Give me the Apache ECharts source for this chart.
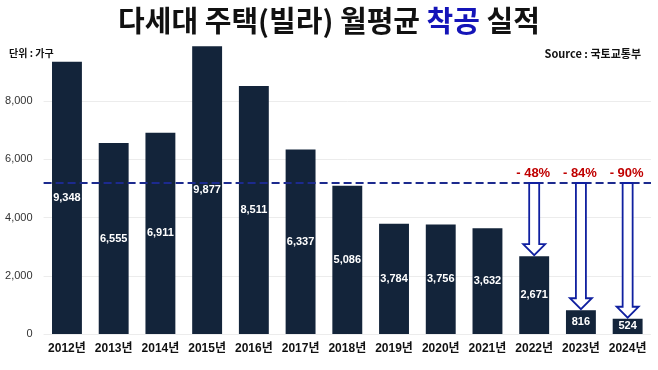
<!DOCTYPE html>
<html>
<head>
<meta charset="utf-8">
<script src="https://cdn.jsdelivr.net/npm/echarts@6/dist/echarts.min.js"></script>
<style>
html,body{margin:0;padding:0;background:#fff;}
#chart{width:658px;height:370px;}
</style>
</head>
<body>
<div id="chart"></div>
<script>
const categories = ['2012년','2013년','2014년','2015년','2016년','2017년','2018년','2019년','2020년','2021년','2022년','2023년','2024년'];
const values = [9348,6555,6911,9877,8511,6337,5086,3784,3756,3632,2671,816,524];
const average = 5184;
const dropCategories = ['2022년','2023년','2024년'];
const dropLabels = ['- 48%','- 84%','- 90%'];
const yMin = 0;
const yMax = 10000;
const yInterval = 2000;

const NUM_FONT = "'Liberation Sans Narrow','Noto Sans CJK KR',sans-serif";
const KR_FONT = "'Noto Sans CJK KR',sans-serif";

const chart = echarts.init(document.getElementById('chart'), null, {renderer:'canvas'});

const arrowData = dropCategories.map((c, i) => [categories.indexOf(c), average, values[categories.indexOf(c)], i]);

const option = {
  backgroundColor: '#ffffff',
  animation: false,
  title: [
    {
      text: '{k|다세대 주택(빌라) 월평균 }{b|착공}{k| 실적}',
      left: 'center',
      top: 1,
      textStyle: {
        rich: {
          k: {fontFamily: KR_FONT, fontWeight: 'bold', fontSize: 29, color: '#111111'},
          b: {fontFamily: KR_FONT, fontWeight: 'bold', fontSize: 29, color: '#1414b8'}
        }
      }
    },
    {
      text: '단위 : 가구',
      left: 4,
      top: 43,
      textStyle: {fontFamily: KR_FONT, fontWeight: 'bold', fontSize: 10, color: '#111'}
    },
    {
      text: 'Source : 국토교통부',
      right: 12,
      top: 43,
      textStyle: {fontFamily: NUM_FONT, fontWeight: 'bold', fontSize: 11, color: '#111'}
    }
  ],
  grid: {left: 43.6, right: 7, top: 42.75, bottom: 36, containLabel: false},
  xAxis: {
    type: 'category',
    data: categories,
    axisLine: {show: false},
    axisTick: {show: false},
    axisLabel: {
      interval: 0,
      margin: 9,
      fontFamily: "'Liberation Sans','Noto Sans CJK KR',sans-serif",
      fontWeight: 'bold',
      fontSize: 12,
      color: '#111'
    }
  },
  yAxis: {
    type: 'value',
    min: yMin,
    max: yMax,
    interval: yInterval,
    axisLine: {show: false},
    axisTick: {show: false},
    axisLabel: {
      showMaxLabel: false,
      margin: 11,
      fontFamily: "'Liberation Sans',Arial,sans-serif",
      fontSize: 11,
      color: '#333',
      formatter: v => v.toLocaleString('en-US')
    },
    splitLine: {show: true, showMaxLine: false, lineStyle: {color: '#ececec', width: 1}}
  },
  series: [
    {
      type: 'bar',
      data: values,
      barWidth: '64%',
      itemStyle: {color: '#13243a'},
      label: {
        show: true,
        position: 'inside',
        color: '#ffffff',
        fontFamily: "'Liberation Sans',Arial,sans-serif",
        fontWeight: 'bold',
        fontSize: 11,
        formatter: p => p.value.toLocaleString('en-US')
      },
      markLine: {
        silent: true,
        symbol: ['none', 'none'],
        lineStyle: {color: '#1c2a8e', type: [8, 4], width: 2.2},
        label: {show: false},
        data: [{yAxis: average}]
      },
      markPoint: {
        silent: true,
        symbol: 'none',
        data: [{coord: ['2020년', average], value: average}],
        label: {
          show: true,
          offset: [-16, -12],
          fontFamily: KR_FONT,
          fontWeight: 'bold',
          fontSize: 11,
          color: '#111',
          formatter: () => '다세대주택 착공 월평균 ' + average.toLocaleString('en-US') + '채'
        }
      },
      z: 2
    },
    {
      type: 'custom',
      data: arrowData,
      z: 5,
      renderItem: function (params, api) {
        const top = api.coord([api.value(0), api.value(1)]);
        const bot = api.coord([api.value(0), api.value(2)]);
        const x = top[0];
        const sh = 5, hh = 11, hL = 11;
        const yt = top[1], yb = bot[1] - 1, yh = yb - hL;
        return {
          type: 'group',
          children: [
            {
              type: 'polygon',
              shape: {points: [[x - sh, yt], [x + sh, yt], [x + sh, yh], [x + hh, yh], [x, yb], [x - hh, yh], [x - sh, yh]]},
              style: {fill: '#ffffff', stroke: '#1020a0', lineWidth: 1.8}
            },
            {
              type: 'text',
              style: {
                text: dropLabels[api.value(3)],
                x: x - 1,
                y: yt - 10,
                align: 'center',
                verticalAlign: 'middle',
                fill: '#c00000',
                font: "bold 13px 'Liberation Sans Narrow','Liberation Sans',sans-serif"
              }
            }
          ]
        };
      }
    }
  ]
};
chart.setOption(option);
</script>
</body>
</html>
